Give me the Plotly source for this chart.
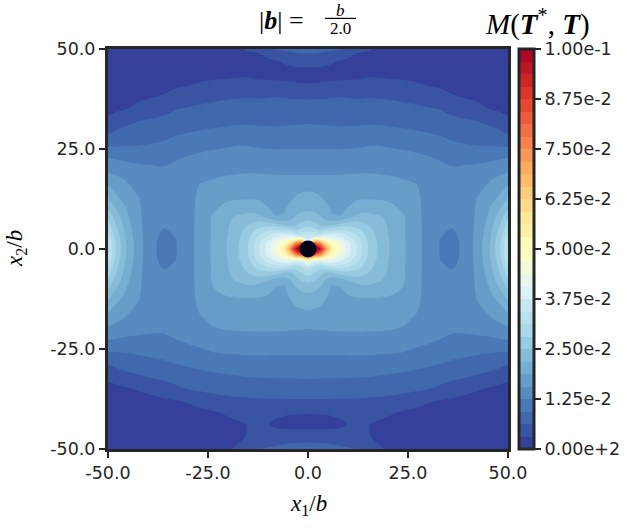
import numpy as np
import plotly.graph_objects as go

# grid: right half only, the field is mirrored about x1 = 0
x_half = [0, 1.5, 3, 4.5, 6, 8, 10, 12.5, 15, 18, 21, 24, 27, 30, 33, 36, 39, 42, 45, 48, 50]

# M values in units of one colour step (0.1 / 32), upper half, y = 0 ... 50
y_upper = [0, 1.5, 3, 4.5, 6, 8, 10, 12.5, 15, 17.5, 20, 23, 26, 29, 32, 35, 38, 41, 44, 47, 50]
m_upper = [
    [40, 40, 31, 23.5, 17.5, 14.8, 12.5, 10.8, 9.0, 7.75, 6.8, 6.1, 5.3, 4.7, 3.95, 3.75, 4.15, 5.3, 6.7, 9.0, 11.0],
    [13, 26, 24, 18.5, 16, 14.2, 12.3, 10.7, 8.95, 7.72, 6.78, 6.1, 5.3, 4.7, 3.96, 3.76, 4.16, 5.28, 6.65, 8.9, 10.9],
    [11.5, 11.8, 12.3, 13, 12.8, 12.2, 11.3, 10.1, 8.7, 7.6, 6.75, 6.1, 5.3, 4.7, 4.02, 3.82, 4.18, 5.25, 6.55, 8.6, 10.6],
    [9.9, 9.6, 9.2, 9.9, 10.3, 10.4, 10.1, 9.4, 8.4, 7.5, 6.7, 6.05, 5.28, 4.7, 4.1, 3.93, 4.2, 5.2, 6.4, 8.3, 10.0],
    [8.6, 8.4, 7.9, 7.6, 7.9, 8.4, 8.6, 8.5, 8.0, 7.3, 6.75, 6.1, 5.27, 4.7, 4.2, 4.1, 4.25, 5.15, 6.3, 8.0, 9.5],
    [7.6, 7.45, 7.1, 6.6, 6.1, 6.05, 6.75, 7.35, 7.45, 7.1, 6.7, 6.05, 5.26, 4.7, 4.35, 4.25, 4.35, 5.1, 6.1, 7.5, 8.8],
    [6.8, 6.75, 6.55, 6.2, 5.9, 5.8, 6.05, 6.45, 6.55, 6.45, 6.2, 5.85, 5.24, 4.7, 4.5, 4.45, 4.5, 5.05, 5.85, 7.0, 8.0],
    [6.3, 6.25, 6.1, 5.9, 5.75, 5.7, 5.8, 5.97, 5.97, 5.96, 5.85, 5.6, 5.2, 4.68, 4.55, 4.4, 4.5, 4.98, 5.5, 6.3, 7.1],
    [5.9, 5.87, 5.8, 5.65, 5.55, 5.5, 5.55, 5.6, 5.62, 5.6, 5.5, 5.35, 5.1, 4.65, 4.5, 4.35, 4.4, 4.8, 5.15, 5.7, 6.3],
    [5.17, 5.17, 5.16, 5.15, 5.15, 5.15, 5.17, 5.2, 5.2, 5.15, 5.1, 4.98, 4.9, 4.55, 4.45, 4.25, 4.3, 4.6, 4.88, 5.2, 5.45],
    [4.75, 4.75, 4.76, 4.77, 4.78, 4.8, 4.81, 4.83, 4.85, 4.82, 4.77, 4.68, 4.6, 4.4, 4.3, 4.1, 4.18, 4.27, 4.38, 4.62, 4.78],
    [4.3, 4.3, 4.3, 4.31, 4.31, 4.32, 4.34, 4.37, 4.4, 4.38, 4.34, 4.27, 4.17, 4.05, 3.85, 3.65, 3.6, 3.62, 3.72, 3.83, 3.96],
    [3.84, 3.84, 3.83, 3.82, 3.81, 3.8, 3.83, 3.88, 3.95, 3.97, 3.88, 3.8, 3.68, 3.53, 3.37, 3.16, 3.07, 2.97, 2.92, 2.88, 2.82],
    [3.36, 3.35, 3.33, 3.3, 3.28, 3.26, 3.28, 3.31, 3.37, 3.36, 3.28, 3.2, 3.1, 3.0, 2.9, 2.7, 2.6, 2.5, 2.35, 2.15, 1.94],
    [2.88, 2.87, 2.85, 2.83, 2.81, 2.79, 2.8, 2.8, 2.82, 2.8, 2.73, 2.7, 2.65, 2.55, 2.45, 2.23, 2.12, 2.02, 1.8, 1.57, 1.22],
    [2.4, 2.4, 2.4, 2.39, 2.39, 2.39, 2.38, 2.37, 2.37, 2.35, 2.31, 2.25, 2.2, 2.09, 1.98, 1.7, 1.55, 1.35, 1.02, 0.8, 0.65],
    [1.88, 1.89, 1.91, 1.93, 1.95, 1.98, 1.97, 1.95, 1.96, 1.94, 1.88, 1.8, 1.64, 1.54, 1.4, 1.1, 0.95, 0.8, 0.65, 0.5, 0.45],
    [1.06, 1.08, 1.12, 1.16, 1.2, 1.26, 1.29, 1.33, 1.4, 1.38, 1.3, 1.26, 1.12, 0.96, 0.85, 0.7, 0.6, 0.5, 0.45, 0.38, 0.35],
    [0.6, 0.6, 0.6, 0.6, 0.6, 0.6, 0.6, 0.62, 0.75, 0.75, 0.7, 0.65, 0.6, 0.55, 0.5, 0.45, 0.42, 0.4, 0.35, 0.3, 0.3],
    [1.5, 1.48, 1.4, 1.28, 1.12, 0.92, 0.75, 0.6, 0.55, 0.5, 0.5, 0.45, 0.45, 0.45, 0.4, 0.38, 0.35, 0.33, 0.3, 0.28, 0.28],
    [2.3, 2.3, 2.25, 2.2, 2.15, 2.05, 1.8, 1.2, 1.1, 0.85, 0.6, 0.5, 0.45, 0.4, 0.38, 0.35, 0.33, 0.3, 0.28, 0.27, 0.27],
]

# lower half, y = -1.5 ... -50
y_lower = [-1.5, -3, -4.5, -6, -8, -10, -12.5, -15, -17.5, -20, -23, -26, -29, -32, -35, -38, -41, -44, -47, -50]
m_lower = [
    [28, 26, 24, 18.5, 16, 14.2, 12.3, 10.7, 8.95, 7.72, 6.78, 6.1, 5.3, 4.7, 3.96, 3.76, 4.16, 5.28, 6.65, 8.9, 10.9],
    [15, 12.5, 12.3, 13, 12.8, 12.2, 11.3, 10.1, 8.7, 7.6, 6.75, 6.1, 5.3, 4.7, 4.02, 3.82, 4.18, 5.25, 6.55, 8.6, 10.6],
    [11.0, 10.2, 9.3, 9.9, 10.3, 10.4, 10.1, 9.4, 8.4, 7.5, 6.7, 6.05, 5.28, 4.7, 4.1, 3.93, 4.2, 5.2, 6.4, 8.3, 10.0],
    [9.4, 9.1, 8.4, 7.8, 7.9, 8.4, 8.6, 8.5, 8.0, 7.3, 6.75, 6.1, 5.27, 4.7, 4.2, 4.1, 4.25, 5.15, 6.3, 8.0, 9.5],
    [8.15, 7.95, 7.5, 6.8, 6.2, 6.25, 6.85, 7.35, 7.4, 7.05, 6.65, 6.05, 5.26, 4.7, 4.35, 4.25, 4.35, 5.1, 6.1, 7.5, 8.8],
    [7.3, 7.2, 6.85, 6.35, 5.85, 5.9, 6.3, 6.55, 6.6, 6.5, 6.3, 5.9, 5.24, 4.7, 4.5, 4.45, 4.5, 5.05, 5.85, 7.0, 8.0],
    [6.6, 6.5, 6.3, 6.0, 5.75, 5.72, 5.8, 5.92, 5.95, 5.93, 5.8, 5.55, 5.2, 4.68, 4.55, 4.45, 4.5, 4.98, 5.5, 6.3, 7.1],
    [6.05, 6.0, 5.9, 5.7, 5.55, 5.5, 5.55, 5.6, 5.6, 5.58, 5.5, 5.35, 5.1, 4.65, 4.5, 4.4, 4.45, 4.8, 5.15, 5.7, 6.3],
    [5.45, 5.43, 5.42, 5.38, 5.35, 5.33, 5.35, 5.38, 5.4, 5.38, 5.3, 5.15, 4.9, 4.58, 4.45, 4.3, 4.35, 4.55, 4.85, 5.2, 5.5],
    [5.0, 5.02, 5.04, 5.06, 5.08, 5.1, 5.11, 5.11, 5.1, 5.08, 5.03, 4.92, 4.6, 4.4, 4.32, 4.15, 4.2, 4.27, 4.38, 4.65, 4.85],
    [4.55, 4.56, 4.57, 4.58, 4.59, 4.6, 4.61, 4.63, 4.62, 4.6, 4.56, 4.45, 4.22, 4.1, 3.95, 3.75, 3.7, 3.72, 3.78, 3.85, 3.9],
    [4.08, 4.08, 4.08, 4.08, 4.08, 4.09, 4.1, 4.12, 4.1, 4.06, 4.02, 3.96, 3.82, 3.65, 3.48, 3.28, 3.2, 3.1, 3.02, 2.95, 2.86],
    [3.58, 3.58, 3.58, 3.58, 3.58, 3.58, 3.58, 3.57, 3.52, 3.46, 3.4, 3.34, 3.2, 3.08, 2.95, 2.8, 2.7, 2.56, 2.38, 2.17, 1.96],
    [3.08, 3.08, 3.07, 3.07, 3.06, 3.06, 3.05, 3.04, 3.0, 2.93, 2.86, 2.78, 2.68, 2.58, 2.4, 2.22, 2.07, 1.88, 1.7, 1.45, 1.24],
    [2.5, 2.5, 2.5, 2.5, 2.49, 2.48, 2.47, 2.45, 2.4, 2.34, 2.3, 2.25, 2.14, 2.02, 1.8, 1.5, 1.3, 1.12, 0.9, 0.72, 0.6],
    [1.9, 1.9, 1.9, 1.9, 1.89, 1.88, 1.87, 1.86, 1.85, 1.8, 1.72, 1.57, 1.35, 1.1, 0.95, 0.85, 0.72, 0.6, 0.5, 0.45, 0.42],
    [1.04, 1.04, 1.05, 1.07, 1.1, 1.15, 1.22, 1.28, 1.27, 1.2, 1.05, 0.85, 0.72, 0.6, 0.55, 0.5, 0.45, 0.4, 0.38, 0.35, 0.33],
    [0.6, 0.6, 0.62, 0.65, 0.72, 0.85, 1.02, 1.15, 1.03, 0.85, 0.7, 0.6, 0.5, 0.45, 0.4, 0.38, 0.35, 0.33, 0.3, 0.3, 0.3],
    [1.65, 1.65, 1.63, 1.6, 1.55, 1.45, 1.35, 1.2, 1.05, 0.85, 0.65, 0.55, 0.5, 0.45, 0.4, 0.38, 0.35, 0.33, 0.3, 0.3, 0.3],
    [2.4, 2.4, 2.38, 2.35, 2.3, 2.2, 2.1, 1.98, 1.5, 1.08, 0.8, 0.6, 0.5, 0.45, 0.42, 0.4, 0.38, 0.35, 0.32, 0.3, 0.3],
]

m_step = 0.1 / 32
n_levels = 32

# core of the defect, drawn as a black dot
core_x = [0]
core_y = [0]

axis_ticks = [-50, -25, 0, 25, 50]
axis_tick_text = ["-50.0", "-25.0", "0.0", "25.0", "50.0"]
cbar_ticks = [0, 0.0125, 0.025, 0.0375, 0.05, 0.0625, 0.075, 0.0875, 0.1]
cbar_tick_text = ["0.00e+2", "1.25e-2", "2.50e-2", "3.75e-2", "5.00e-2",
                  "6.25e-2", "7.50e-2", "8.75e-2", "1.00e-1"]

# mirror the right half onto the left half
x_full = [-v for v in x_half[:0:-1]] + x_half
y_full = y_lower[::-1] + y_upper
rows = m_lower[::-1] + m_upper
z = np.array([r[:0:-1] + r for r in rows]) * m_step

# RdYlBu_r, sampled at the middle of each of the 32 bands
rdylbu_r = ['#313695', '#4575b4', '#74add1', '#abd9e9', '#e0f3f8', '#ffffbf',
            '#fee090', '#fdae61', '#f46d43', '#d73027', '#a50026']
rgb = np.array([[int(h[i:i + 2], 16) for i in (1, 3, 5)] for h in rdylbu_r], float)
pos = np.linspace(0, 1, len(rdylbu_r))
colorscale = []
for k in range(n_levels):
    t = (k + 0.5) / n_levels
    c = tuple(int(round(np.interp(t, pos, rgb[:, j]))) for j in range(3))
    col = 'rgb(%d,%d,%d)' % c
    colorscale.append([k / n_levels, col])
    colorscale.append([(k + 1) / n_levels, col])

dark = '#262626'
tick_font = dict(family='DejaVu Sans', size=17.5, color=dark)
math_font = 'Liberation Serif'

fig = go.Figure()

fig.add_trace(go.Contour(
    x=x_full, y=y_full, z=z,
    zmin=0, zmax=0.1,
    colorscale=colorscale,
    contours=dict(start=0, end=0.1, size=m_step, coloring='fill', showlines=False),
    line=dict(width=0, smoothing=0.9),
    hoverinfo='skip',
    colorbar=dict(
        x=1.0275, xanchor='left', xpad=0,
        y=0.5, yanchor='middle', len=1, lenmode='fraction', ypad=0,
        thickness=15, outlinewidth=3, outlinecolor=dark,
        tickvals=cbar_ticks, ticktext=cbar_tick_text,
        ticks='outside', ticklen=6, tickwidth=2, tickcolor=dark,
        tickfont=tick_font,
    ),
))

fig.add_trace(go.Scatter(
    x=core_x, y=core_y, mode='markers',
    marker=dict(size=17, color='#02041a', line=dict(width=0)),
    hoverinfo='skip', showlegend=False,
))

axis_style = dict(
    range=[-50, 50], tickvals=axis_ticks, ticktext=axis_tick_text,
    ticks='outside', ticklen=6, tickwidth=2, tickcolor=dark,
    showline=True, linewidth=3, linecolor=dark, mirror=True,
    showgrid=False, zeroline=False, tickfont=tick_font,
)
fig.update_xaxes(**axis_style)
fig.update_yaxes(**axis_style)

ann = dict(xref='paper', yref='paper', showarrow=False, xanchor='center', yanchor='middle')
fig.add_annotation(text='|<b><i>b</i></b>| =', x=0.4325, y=1.07,
                   font=dict(family=math_font, size=26, color='black'), **ann)
fig.add_annotation(text='<i>b</i>', x=0.58, y=1.0975,
                   font=dict(family=math_font, size=17, color='black'), **ann)
fig.add_annotation(text='2.0', x=0.58, y=1.0525,
                   font=dict(family=math_font, size=17, color='black'), **ann)
fig.add_shape(type='line', xref='paper', yref='paper', x0=0.5425, x1=0.62,
              y0=1.0765, y1=1.0765, line=dict(color='black', width=1.2))
fig.add_annotation(text='<i>M</i>(<b><i>T</i></b><sup>*</sup>, <b><i>T</i></b>)',
                   x=1.0725, y=1.0675,
                   font=dict(family=math_font, size=29, color='black'), **ann)
fig.add_annotation(text='<i>x</i><sub>1</sub>/<i>b</i>', x=0.5, y=-0.14,
                   font=dict(family=math_font, size=23, color='black'), **ann)
fig.add_annotation(text='<i>x</i><sub>2</sub>/<i>b</i>', x=-0.23, y=0.5, textangle=-90,
                   font=dict(family=math_font, size=23, color='black'), **ann)

fig.update_layout(
    width=637, height=528,
    margin=dict(l=108, r=129, t=49, b=79),
    paper_bgcolor='white', plot_bgcolor='white',
    showlegend=False,
)

# drop the page's default body margin so the figure sits at the window's corner
fig.write_html("out.html", config={'displayModeBar': False},
               post_script="document.body.style.margin = '0px';")
